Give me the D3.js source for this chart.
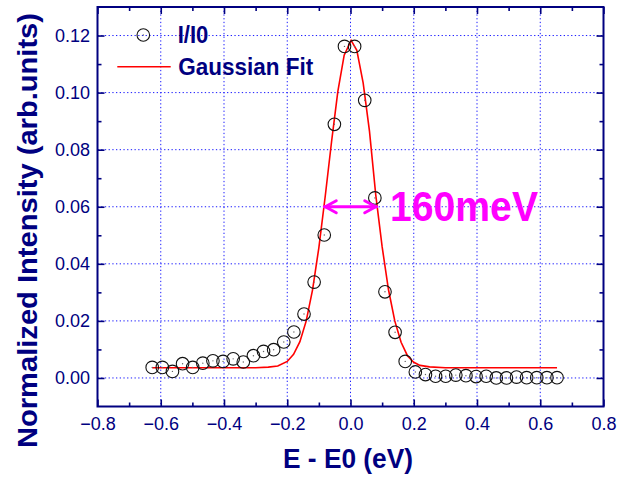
<!DOCTYPE html>
<html><head><meta charset="utf-8">
<script src="https://cdn.jsdelivr.net/npm/d3@7"></script>
<style>html,body{margin:0;padding:0;background:#fff;} svg{display:block;}</style>
</head><body>
<svg id="chart" width="618" height="477"></svg>
<script>
// ---- data ----
const xTicks = [-0.8, -0.6, -0.4, -0.2, 0.0, 0.2, 0.4, 0.6, 0.8];
const xMinorTicks = [-0.7, -0.5, -0.3, -0.1, 0.1, 0.3, 0.5, 0.7];
const yTicks = [0.00, 0.02, 0.04, 0.06, 0.08, 0.10, 0.12];
const yMinorTicks = [0.01, 0.03, 0.05, 0.07, 0.09, 0.11];

const energy = [-0.627, -0.595, -0.563, -0.531, -0.499, -0.467, -0.435, -0.403, -0.371, -0.339,
  -0.307, -0.275, -0.243, -0.211, -0.179, -0.147, -0.115, -0.083, -0.051, -0.019,
  0.013, 0.045, 0.077, 0.109, 0.141, 0.173, 0.205, 0.237, 0.269, 0.301,
  0.333, 0.365, 0.397, 0.429, 0.461, 0.493, 0.525, 0.557, 0.589, 0.621, 0.653];
const intensity = [0.0037, 0.0037, 0.0023, 0.0050, 0.0037, 0.0052, 0.0060, 0.0058, 0.0067, 0.0056,
  0.0078, 0.0093, 0.0099, 0.0126, 0.0161, 0.0224, 0.0336, 0.0501, 0.0889, 0.1162,
  0.1162, 0.0973, 0.0631, 0.0302, 0.0160, 0.0058, 0.0021, 0.0012, 0.0006, 0.0006,
  0.0010, 0.0008, 0.0005, 0.0006, 0.0000, 0.0000, 0.0003, 0.0001, 0.0001, 0.0001, 0.0001];

const fitEnergy = [-0.627, -0.40, -0.30, -0.26, -0.23, -0.20, -0.18, -0.16, -0.14, -0.12,
  -0.10, -0.08, -0.06, -0.04, -0.02, 0.002, 0.02, 0.04, 0.06, 0.08,
  0.10, 0.12, 0.14, 0.16, 0.18, 0.20, 0.22, 0.25, 0.30, 0.653];
const fitIntensity = [0.0036, 0.0036, 0.0036, 0.0038, 0.0042, 0.0058, 0.0083, 0.0127, 0.0200, 0.0309,
  0.0457, 0.0636, 0.0827, 0.1004, 0.1131, 0.1183, 0.1148, 0.1034, 0.0865, 0.0640,
  0.0460, 0.0310, 0.0200, 0.0125, 0.0078, 0.0055, 0.0044, 0.0039, 0.0036, 0.0036];

const fwhmArrow = [-0.083, 0.083];
const fwhmLevel = [0.06];
const fwhmLabel = ["160meV"];
const legendLabels = ["I/I0", "Gaussian Fit"];

// ---- layout ----
const svg = d3.select("#chart");
const L = 97.5, R = 603.5, T = 7, B = 406.5;
const x = d3.scaleLinear().domain([-0.8, 0.8]).range([L, R]);
const y = d3.scaleLinear().domain([-0.01, 0.13]).range([B, T]);
const navy = "#000080";
const tickFont = "'Liberation Sans', Arial, sans-serif";

// grid
const grid = svg.append("g");
grid.selectAll(".gx").data(xTicks.slice(1, -1)).join("line")
  .attr("x1", d => x(d)).attr("x2", d => x(d)).attr("y1", T).attr("y2", B)
  .attr("stroke", "#1a1aff").attr("stroke-width", 1).attr("stroke-dasharray", "1.3,2.4");
grid.selectAll(".gy").data(yTicks).join("line")
  .attr("x1", L).attr("x2", R).attr("y1", d => y(d)).attr("y2", d => y(d))
  .attr("stroke", "#1a1aff").attr("stroke-width", 1).attr("stroke-dasharray", "1.3,2.4");

// axes
function styleAxis(g) {
  g.select(".domain").remove();
  g.selectAll("line").attr("stroke", navy).attr("stroke-width", 1.6);
  g.selectAll("text").attr("fill", navy).attr("font-family", tickFont).attr("font-size", 18);
}
svg.append("g").attr("transform", `translate(0,${B})`)
  .call(d3.axisBottom(x).tickValues(xTicks).tickSize(-7).tickPadding(10.5).tickFormat(d3.format(".1f")))
  .call(styleAxis);
svg.append("g").attr("transform", `translate(0,${B})`)
  .call(d3.axisBottom(x).tickValues(xMinorTicks).tickSize(-4).tickFormat(""))
  .call(styleAxis);
svg.append("g").attr("transform", `translate(0,${T})`)
  .call(d3.axisTop(x).tickValues(xTicks).tickSize(-7).tickFormat(""))
  .call(styleAxis);
svg.append("g").attr("transform", `translate(0,${T})`)
  .call(d3.axisTop(x).tickValues(xMinorTicks).tickSize(-4).tickFormat(""))
  .call(styleAxis);
svg.append("g").attr("transform", `translate(${L},0)`)
  .call(d3.axisLeft(y).tickValues(yTicks).tickSize(-7).tickPadding(7.5).tickFormat(d3.format(".2f")))
  .call(styleAxis);
svg.append("g").attr("transform", `translate(${L},0)`)
  .call(d3.axisLeft(y).tickValues(yMinorTicks).tickSize(-4).tickFormat(""))
  .call(styleAxis);
svg.append("g").attr("transform", `translate(${R},0)`)
  .call(d3.axisRight(y).tickValues(yTicks).tickSize(-7).tickFormat(""))
  .call(styleAxis);
svg.append("g").attr("transform", `translate(${R},0)`)
  .call(d3.axisRight(y).tickValues(yMinorTicks).tickSize(-4).tickFormat(""))
  .call(styleAxis);

svg.append("rect").attr("x", L).attr("y", T).attr("width", R - L).attr("height", B - T)
  .attr("fill", "none").attr("stroke", navy).attr("stroke-width", 2);

// fit line
const fitData = fitEnergy.map((e, i) => [e, fitIntensity[i]]);
svg.append("path").datum(fitData)
  .attr("d", d3.line().x(d => x(d[0])).y(d => y(d[1])))
  .attr("fill", "none").attr("stroke", "#ff0000").attr("stroke-width", 1.6);

// data points
const pts = energy.map((e, i) => [e, intensity[i]]);
const pg = svg.append("g");
pg.selectAll("circle.o").data(pts).join("circle")
  .attr("cx", d => x(d[0])).attr("cy", d => y(d[1])).attr("r", 6.3)
  .attr("fill", "none").attr("stroke", "#111").attr("stroke-width", 1.1);
pg.selectAll("circle.c").data(pts).join("circle")
  .attr("cx", d => x(d[0])).attr("cy", d => y(d[1])).attr("r", 0.7)
  .attr("fill", "#666");

// FWHM arrow
const ay = y(fwhmLevel[0]);
const ax1 = x(fwhmArrow[0]), ax2 = x(fwhmArrow[1]);
const mag = "#ff00ff";
const ag = svg.append("g").attr("stroke", mag).attr("stroke-width", 3).attr("fill", "none")
  .attr("stroke-linecap", "round").attr("stroke-linejoin", "round");
ag.append("line").attr("x1", ax1).attr("x2", ax2).attr("y1", ay).attr("y2", ay);
ag.append("path").attr("d", `M${ax1 + 12},${ay - 6}L${ax1 + 1},${ay}L${ax1 + 12},${ay + 6}`);
ag.append("path").attr("d", `M${ax2 - 12},${ay - 6}L${ax2 - 1},${ay}L${ax2 - 12},${ay + 6}`);
svg.append("text").attr("x", 390).attr("y", 220.7).text(fwhmLabel[0])
  .attr("font-family", tickFont).attr("font-weight", "bold").attr("font-size", 43)
  .attr("textLength", 148).attr("lengthAdjust", "spacingAndGlyphs").attr("fill", mag);

// legend
svg.append("circle").attr("cx", 143.3).attr("cy", 35).attr("r", 6.3)
  .attr("fill", "none").attr("stroke", "#111").attr("stroke-width", 1.1);
svg.append("circle").attr("cx", 143.3).attr("cy", 35).attr("r", 0.7).attr("fill", "#666");
svg.append("line").attr("x1", 117.3).attr("x2", 170.7).attr("y1", 66.7).attr("y2", 66.7)
  .attr("stroke", "#ff0000").attr("stroke-width", 1.6);
svg.append("text").attr("x", 177.7).attr("y", 43.3).text(legendLabels[0])
  .attr("font-family", tickFont).attr("font-weight", "bold").attr("font-size", 23)
  .attr("textLength", 30.7).attr("lengthAdjust", "spacingAndGlyphs").attr("fill", navy);
svg.append("text").attr("x", 178.3).attr("y", 75).text(legendLabels[1])
  .attr("font-family", tickFont).attr("font-weight", "bold").attr("font-size", 23)
  .attr("textLength", 135).attr("lengthAdjust", "spacingAndGlyphs").attr("fill", navy);

// axis titles
svg.append("text").attr("x", 283).attr("y", 468)
  .text("E - E0 (eV)").attr("font-family", tickFont).attr("font-weight", "bold")
  .attr("font-size", 27).attr("textLength", 130).attr("lengthAdjust", "spacingAndGlyphs")
  .attr("fill", navy);
svg.append("text").attr("transform", "translate(37,448) rotate(-90)")
  .text("Normalized Intensity (arb.units)").attr("font-family", tickFont).attr("font-weight", "bold")
  .attr("font-size", 28).attr("textLength", 435).attr("lengthAdjust", "spacingAndGlyphs")
  .attr("fill", navy);
</script>
</body></html>
